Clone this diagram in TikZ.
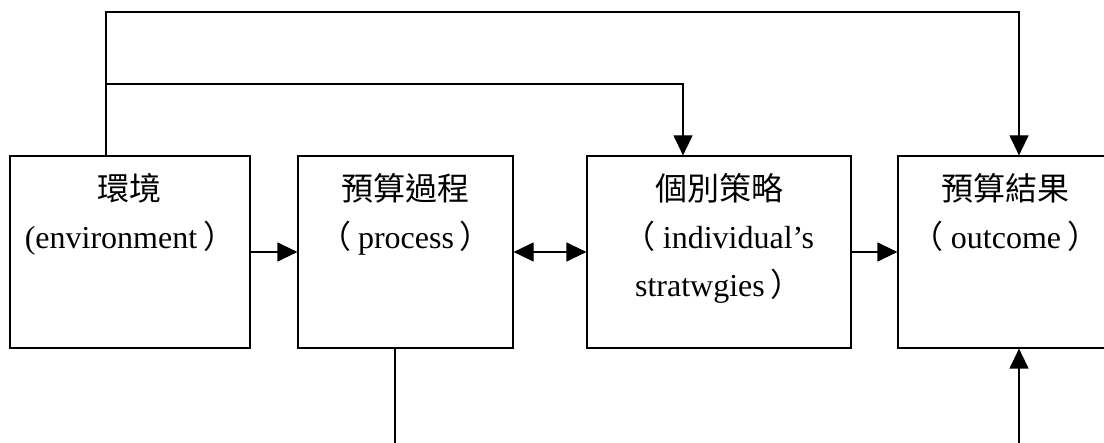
\documentclass[tikz,border=0pt]{standalone}
\usepackage{fontspec}
\setmainfont{Liberation Serif}
\newfontfamily\cjk{Noto Sans CJK TC}
\usetikzlibrary{arrows.meta}
\newcommand{\lp}{{\cjk （}\hspace{7pt}}
\newcommand{\rp}{\hspace{6pt}{\cjk ）}}
\begin{document}
\begin{tikzpicture}[x=1pt,y=-1pt,
  box/.style={draw, line width=1.2pt, minimum width=#1, minimum height=192pt, inner sep=0pt},
  conn/.style={line width=1.2pt},
  arr/.style={conn, -{Triangle[length=20pt,width=19pt]}},
  darr/.style={conn, {Triangle[length=20pt,width=19pt]}-{Triangle[length=20pt,width=19pt]}},
  txt/.style={inner sep=0pt, align=center, anchor=north, font=\fontsize{32}{48}\selectfont}]
\path[use as bounding box] (0,0) rectangle (1104,443);
\clip (0,0) rectangle (1104,443);
\node[box=240pt] (env) at (130,252) {};
\node[box=215pt] (proc) at (405.5,252) {};
\node[box=264pt] (strat) at (719,252) {};
\node[box=215pt] (outc) at (1005.5,252) {};
\node[txt] (envt) at ([yshift=-15pt]env.north) {\rule{0pt}{30pt}{\cjk 環境}\\(environment\rp};
\node[txt] (proct) at ([yshift=-15pt]proc.north) {\rule{0pt}{30pt}{\cjk 預算過程}\\\lp process\rp};
\node[txt] (stratt) at ([yshift=-15pt]strat.north) {\rule{0pt}{30pt}{\cjk 個別策略}\\\lp individual’s\\stratwgies\rp};
\node[txt] (outct) at ([yshift=-15pt]outc.north) {\rule{0pt}{30pt}{\cjk 預算結果}\\\lp outcome\rp};
\coordinate (t1) at (106,12);
\coordinate (t2) at (1019,12);
\coordinate (b1) at (106,84);
\coordinate (b2) at (683,84);
\coordinate (p1) at (395,446);
\coordinate (o1) at (1019,446);
\draw[arr] (env.east) -- (proc.west);
\draw[darr] (proc.east) -- (strat.west);
\draw[arr] (strat.east) -- (outc.west);
\draw[arr] (env.north -| t1) -- (t1) -- (t2) -- (t2 |- outc.north);
\draw[arr] (b1) -- (b2) -- (b2 |- strat.north);
\draw[conn] (proc.south -| p1) -- (p1);
\draw[arr] (o1) -- (o1 |- outc.south);
\end{tikzpicture}
\end{document}
